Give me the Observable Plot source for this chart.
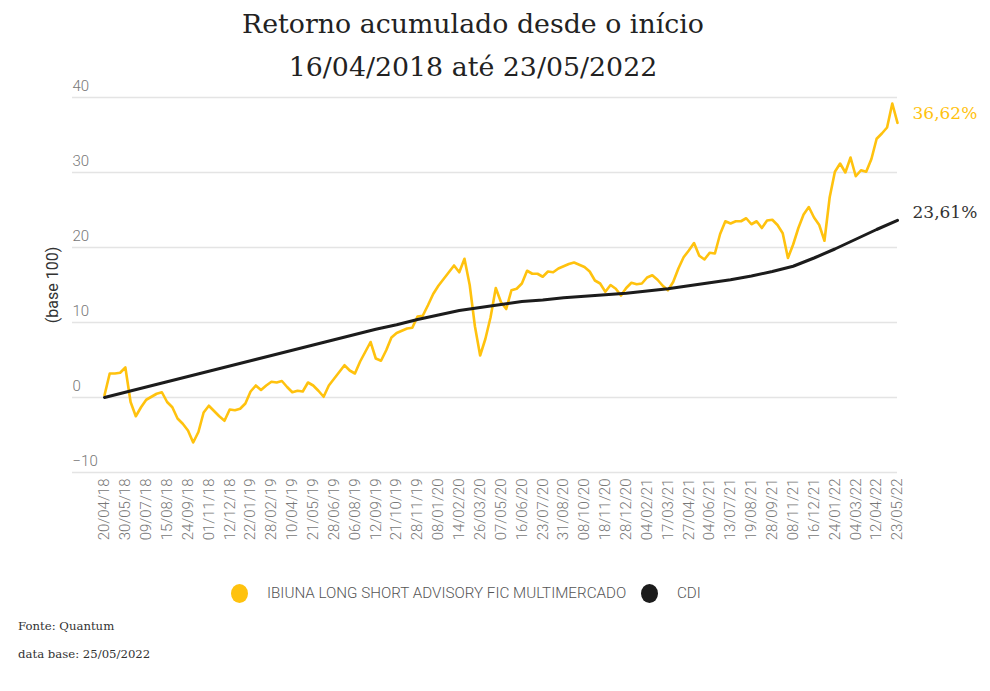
<!DOCTYPE html>
<html><head><meta charset="utf-8">
<script src="https://cdn.jsdelivr.net/npm/d3@7"></script>
<script src="https://cdn.jsdelivr.net/npm/@observablehq/plot@0.6"></script>
<style>
body{margin:0;background:#fff;width:990px;height:691px;position:relative;overflow:hidden;font-family:Roboto,sans-serif}
.t{position:absolute;left:0;width:946px;text-align:center;font-family:"DejaVu Serif",serif;color:#222;font-size:26.8px;white-space:nowrap}
#chart{position:absolute;left:0;top:0}
.leg{position:absolute;top:583px;height:20px;display:flex;align-items:center;font-family:Roboto,sans-serif;font-weight:300;font-size:15.2px;color:#555;white-space:nowrap}
.dot{display:inline-block;width:17px;height:19px;border-radius:50%;margin-right:19px}
.foot{position:absolute;left:18px;font-family:"DejaVu Serif",serif;font-size:11.7px;color:#333}
</style></head><body>
<div class="t" style="top:8px">Retorno acumulado desde o início</div>
<div class="t" style="top:51px">16/04/2018 até 23/05/2022</div>
<div id="chart"></div>
<div class="leg" style="left:231px"><span class="dot" id="d1"></span><span id="n1"></span></div>
<div class="leg" style="left:641px"><span class="dot" id="d2"></span><span id="n2"></span></div>
<div class="foot" style="top:619px">Fonte: Quantum</div>
<div class="foot" style="top:647px">data base: 25/05/2022</div>
<script>
const seriesNames = ["IBIUNA LONG SHORT ADVISORY FIC MULTIMERCADO", "CDI"];
const seriesColors = ["#FFC20E", "#1c1c1c"];
const xLabels = ["20/04/18","30/05/18","09/07/18","15/08/18","24/09/18","01/11/18","12/12/18","22/01/19","28/02/19","10/04/19","21/05/19","28/06/19","06/08/19","12/09/19","21/10/19","28/11/19","08/01/20","14/02/20","26/03/20","07/05/20","16/06/20","23/07/20","31/08/20","08/10/20","18/11/20","28/12/20","04/02/21","17/03/21","27/04/21","04/06/21","13/07/21","19/08/21","28/09/21","08/11/21","16/12/21","24/01/22","04/03/22","12/04/22","23/05/22"];
const yTicks = [-10, 0, 10, 20, 30, 40];
// fund: 4 readings per label interval
const fundValues = [0.3,3.2,3.2,3.3,4.0,-0.6,-2.5,-1.3,-0.3,0.1,0.5,0.7,-0.6,-1.3,-2.8,-3.5,-4.4,-6.0,-4.6,-2.0,-1.1,-1.8,-2.5,-3.1,-1.6,-1.7,-1.5,-0.8,0.8,1.6,1.0,1.6,2.1,2.0,2.2,1.4,0.7,0.9,0.8,2.0,1.6,0.9,0.1,1.6,2.5,3.4,4.3,3.6,3.2,4.8,6.1,7.4,5.2,4.9,6.3,8.0,8.6,8.9,9.2,9.3,10.8,10.9,12.3,13.8,14.9,15.8,16.7,17.6,16.7,18.5,15.0,9.5,5.6,7.8,10.7,14.6,12.7,11.8,14.3,14.5,15.2,16.9,16.5,16.5,16.1,16.8,16.7,17.2,17.5,17.8,18.0,17.7,17.4,16.8,15.6,15.2,14.1,15.0,14.5,13.6,14.6,15.3,15.1,15.2,16.0,16.3,15.7,14.9,14.3,15.4,17.2,18.7,19.6,20.6,18.9,18.4,19.3,19.2,21.8,23.5,23.2,23.5,23.5,23.9,23.1,23.5,22.6,23.6,23.7,23.0,21.9,18.6,20.4,22.6,24.4,25.4,24.0,23.0,20.9,26.7,30.1,31.2,30.0,32.0,29.5,30.3,30.1,31.8,34.5,35.2,36.0,39.2,36.62];
// CDI: one reading per label date
const cdiValues = [0,0.7,1.4,2.1,2.8,3.5,4.2,4.9,5.6,6.3,7.0,7.7,8.4,9.1,9.7,10.4,11.0,11.6,12.0,12.4,12.8,13.0,13.3,13.5,13.7,13.9,14.2,14.5,14.9,15.3,15.7,16.2,16.8,17.5,18.6,19.8,21.1,22.4,23.61];

const step = (fundValues.length - 1) / (xLabels.length - 1);
const fund = fundValues.map((v, i) => ({i, v}));
const cdi = cdiValues.map((v, k) => ({i: k * step, v}));
const tickIdx = xLabels.map((_, k) => k * step);
const fmt = v => v.toFixed(2).replace(".", ",") + "%";

const chart = Plot.plot({
  width: 990, height: 560,
  marginTop: 97, marginBottom: 88, marginLeft: 72, marginRight: 93,
  style: {fontFamily: "Roboto, sans-serif", background: "transparent"},
  x: {domain: [0, fundValues.length - 1], insetLeft: 32},
  y: {domain: [-10, 40]},
  marks: [
    Plot.ruleY(yTicks, {stroke: "#e4e4e4", strokeWidth: 1.5}),
    Plot.axisY({ticks: yTicks, tickSize: 0, tickPadding: 0, textAnchor: "start", dy: -11, fontSize: 15, fill: "#777", fontWeight: 300, label: null}),
    Plot.axisX({ticks: tickIdx, tickFormat: i => xLabels[Math.round(i / step)], tickRotate: -90, tickSize: 0, tickPadding: 6, fontSize: 15, fill: "#777", fontWeight: 300, label: null}),
    Plot.text(["(base 100)"], {frameAnchor: "left", text: d => d, rotate: -90, textAnchor: "middle", dx: -20, fontSize: 16, fill: "#333"}),
    Plot.line(fund, {x: "i", y: "v", stroke: seriesColors[0], strokeWidth: 2.6}),
    Plot.line(cdi, {x: "i", y: "v", stroke: seriesColors[1], strokeWidth: 3}),
    Plot.text([fund[fund.length - 1]], {x: "i", y: "v", text: d => fmt(d.v), dx: 15, dy: -9, textAnchor: "start", fill: seriesColors[0], fontSize: 17, fontFamily: "DejaVu Serif"}),
    Plot.text([cdi[cdi.length - 1]], {x: "i", y: "v", text: d => fmt(d.v), dx: 15, dy: -8, textAnchor: "start", fill: "#333", fontSize: 17, fontFamily: "DejaVu Serif"})
  ]
});
document.getElementById("chart").appendChild(chart);
document.getElementById("d1").style.background = seriesColors[0];
document.getElementById("d2").style.background = seriesColors[1];
document.getElementById("n1").textContent = seriesNames[0];
document.getElementById("n2").textContent = seriesNames[1];
</script>
</body></html>
